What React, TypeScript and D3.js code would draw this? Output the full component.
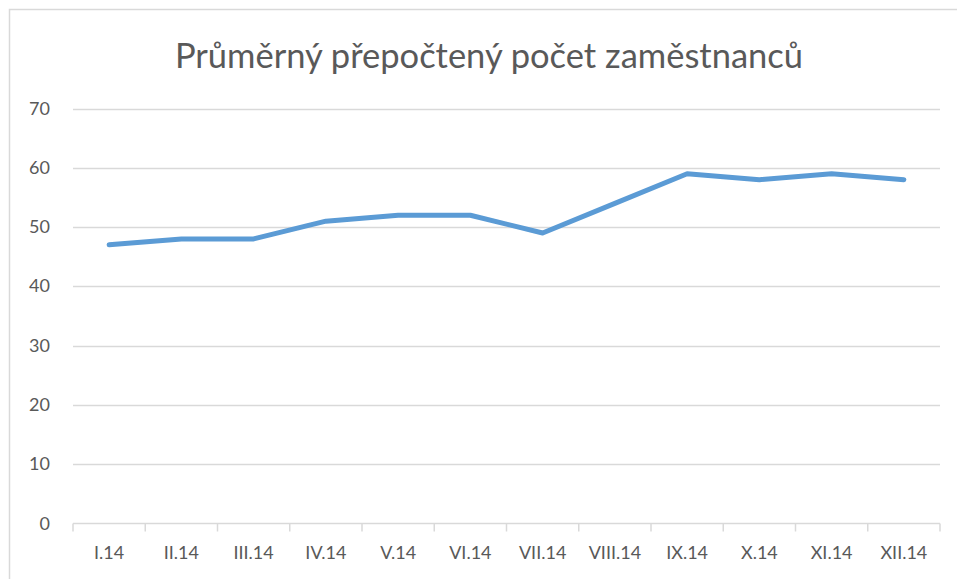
import React from "react";
import * as d3 from "d3";

const categories = ["I.14", "II.14", "III.14", "IV.14", "V.14", "VI.14", "VII.14", "VIII.14", "IX.14", "X.14", "XI.14", "XII.14"];
const values = [47, 48, 48, 51, 52, 52, 49, 54, 59, 58, 59, 58];
const yTicks = [0, 10, 20, 30, 40, 50, 60, 70];
const title = "Průměrný přepočtený počet zaměstnanců";

const W = 957;
const H = 579;
const left = 73;
const right = 940;
const top = 108.5;
const bottom = 523.5;
const FONT = "Lato, 'Open Sans', sans-serif";
const TEXT = "#595959";
const GRID = "#D9D9D9";

export default function App() {
  const x = d3.scaleBand<string>().domain(categories).range([left, right]);
  const y = d3.scaleLinear().domain([0, 70]).range([bottom, top]);
  const line = d3
    .line<number>()
    .x((_, i) => (x(categories[i]) as number) + x.bandwidth() / 2)
    .y((d) => y(d));
  const tickXs = categories.map((c) => x(c) as number).concat([right]);

  return (
    <svg width={W} height={H} style={{ position: "absolute", left: 0, top: 0, background: "#fff" }}>
      <rect x={9.5} y={9.5} width={1000} height={1000} fill="#fff" stroke={GRID} strokeWidth={1.5} />
      <text x={489} y={68} textAnchor="middle" fontFamily={FONT} fontSize={34.5} fill={TEXT}>
        {title}
      </text>
      {yTicks.map((t) => (
        <g key={t}>
          {t > 0 && (
            <line x1={left} x2={right} y1={Math.round(y(t)) + 0.5} y2={Math.round(y(t)) + 0.5} stroke={GRID} strokeWidth={1.3} />
          )}
          <text x={50} y={y(t) + 6} textAnchor="end" fontFamily={FONT} fontSize={18} fill={TEXT}>
            {t}
          </text>
        </g>
      ))}
      <line x1={left} x2={right} y1={bottom} y2={bottom} stroke={GRID} strokeWidth={1.5} />
      {tickXs.map((tx, i) => (
        <line key={i} x1={tx} x2={tx} y1={bottom} y2={bottom + 8} stroke={GRID} strokeWidth={1.5} />
      ))}
      {categories.map((c) => (
        <text key={c} x={(x(c) as number) + x.bandwidth() / 2} y={bottom + 35} textAnchor="middle" fontFamily={FONT} fontSize={18} fill={TEXT}>
          {c}
        </text>
      ))}
      <path d={line(values) || ""} fill="none" stroke="#5B9BD5" strokeWidth={5} strokeLinecap="round" strokeLinejoin="round" />
    </svg>
  );
}
